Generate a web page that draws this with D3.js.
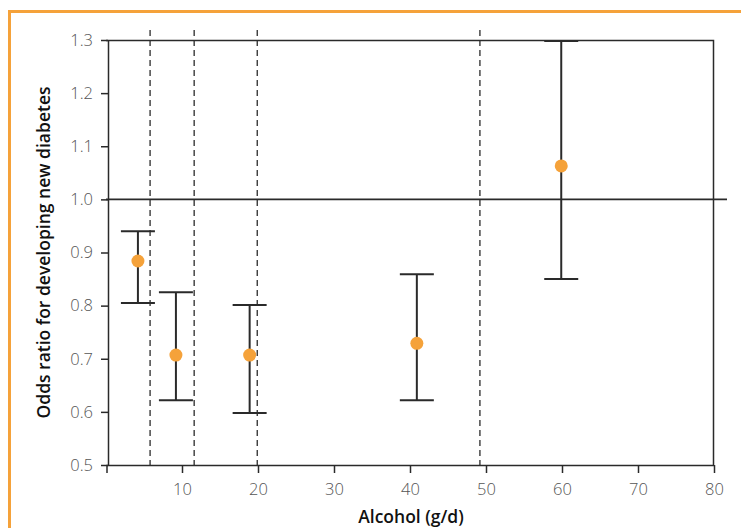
<!DOCTYPE html>
<html>
<head>
<meta charset="utf-8">
<script src="https://cdn.jsdelivr.net/npm/d3@7"></script>
<style>
  body { margin: 0; background: #fff; }
  svg { display: block; }
  .tick text { font-family: 'Open Sans', sans-serif; font-weight: 300; font-size: 16.5px; fill: #555; }
  .axis-title { font-family: 'Open Sans', sans-serif; font-weight: 600; font-size: 17.5px; fill: #111; }
</style>
</head>
<body>
<svg width="741" height="528"></svg>
<script>
(function (d3) {
    'use strict';

    // alcohol intake (g/d) for each group and its odds ratio with 95% CI
    var alcohol = [4.2, 9.2, 18.9, 40.9, 59.9];
    var oddsRatio = [0.884, 0.707, 0.707, 0.729, 1.063];
    var ciLow = [0.805, 0.622, 0.598, 0.622, 0.850];
    var ciHigh = [0.940, 0.825, 0.801, 0.859, 1.298];

    // group boundaries (dashed lines)
    var cutoffs = [5.8, 11.6, 19.9, 49.2];

    var xTicks = [10, 20, 30, 40, 50, 60, 70, 80];
    var yTicks = [0.5, 0.6, 0.7, 0.8, 0.9, 1.0, 1.1, 1.2, 1.3];
    var refValue = 1.0;

    var svg = d3.select('svg'),
        margin = { top: 40, right: 27, bottom: 63, left: 106 },
        width = 714 - margin.left,
        height = 465 - margin.top;

    var x = d3.scaleLinear().domain([0, 80]).range([0, width]),
        y = d3.scaleLinear().domain([0.5, 1.3]).range([height, 0]);

    var ink = '#2a2a2a',
        orange = '#f5a23a';

    // orange panel border
    svg.append('path')
        .attr('d', 'M9.5,' + 560 + 'V11.5H760')
        .attr('fill', 'none')
        .attr('stroke', orange)
        .attr('stroke-width', 3);

    var g = svg.append('g')
        .attr('transform', 'translate(' + margin.left + ',' + margin.top + ')');

    // frame (top and right)
    g.append('path')
        .attr('d', 'M' + x(0) + ',0.5H' + (x(80) - 0.5) + 'V' + height)
        .attr('fill', 'none')
        .attr('stroke', ink)
        .attr('stroke-width', 1.5);

    // dashed cutoffs
    g.selectAll('.cutoff')
        .data(cutoffs)
        .enter().append('line')
        .attr('class', 'cutoff')
        .attr('x1', function (d) { return x(d); })
        .attr('x2', function (d) { return x(d); })
        .attr('y1', -10)
        .attr('y2', height)
        .attr('stroke', ink)
        .attr('stroke-width', 1.3)
        .attr('stroke-dasharray', '6,4');

    // reference line at OR = 1
    g.append('line')
        .attr('x1', x(0))
        .attr('x2', width + 13)
        .attr('y1', y(refValue))
        .attr('y2', y(refValue))
        .attr('stroke', ink)
        .attr('stroke-width', 1.8);

    // axes
    var xAxis = g.append('g')
        .attr('transform', 'translate(0,' + height + ')')
        .call(d3.axisBottom(x).tickValues(xTicks).tickSize(8).tickPadding(10).tickSizeOuter(0));
    xAxis.select('.domain').attr('stroke', ink).attr('stroke-width', 1.5)
        .attr('d', 'M' + (x(0) + 1) + ',8V0.5H' + x(80));
    xAxis.selectAll('.tick line').attr('stroke', ink).attr('stroke-width', 1.5);

    var yAxis = g.append('g')
        .attr('transform', 'translate(2,0)')
        .call(d3.axisLeft(y).tickValues(yTicks).tickFormat(d3.format('.1f')).tickSize(7).tickPadding(8).tickSizeOuter(0));
    yAxis.select('.domain').attr('stroke', ink).attr('stroke-width', 1.5);
    yAxis.selectAll('.tick line').attr('stroke', ink).attr('stroke-width', 1.5);

    // error bars
    var bars = g.selectAll('.err')
        .data(alcohol)
        .enter().append('g')
        .attr('class', 'err');

    bars.append('line')
        .attr('x1', function (d) { return x(d); })
        .attr('x2', function (d) { return x(d); })
        .attr('y1', function (d, i) { return y(ciLow[i]); })
        .attr('y2', function (d, i) { return y(ciHigh[i]); })
        .attr('stroke', ink)
        .attr('stroke-width', 2);

    [ciLow, ciHigh].forEach(function (arr) {
        bars.append('line')
            .attr('x1', function (d) { return x(d) - 17; })
            .attr('x2', function (d) { return x(d) + 17; })
            .attr('y1', function (d, i) { return y(arr[i]); })
            .attr('y2', function (d, i) { return y(arr[i]); })
            .attr('stroke', ink)
            .attr('stroke-width', 2);
    });

    bars.append('circle')
        .attr('cx', function (d) { return x(d); })
        .attr('cy', function (d, i) { return y(oddsRatio[i]); })
        .attr('r', 6.5)
        .attr('fill', orange);

    // titles
    svg.append('text')
        .attr('class', 'axis-title')
        .attr('x', margin.left + width / 2 + 1)
        .attr('y', 523)
        .attr('text-anchor', 'middle')
        .text('Alcohol (g/d)');

    svg.append('text')
        .attr('class', 'axis-title')
        .attr('transform', 'translate(50,' + (margin.top + height / 2) + ') rotate(-90)')
        .attr('text-anchor', 'middle')
        .text('Odds ratio for developing new diabetes');
})(window.d3);
</script>
</body>
</html>
